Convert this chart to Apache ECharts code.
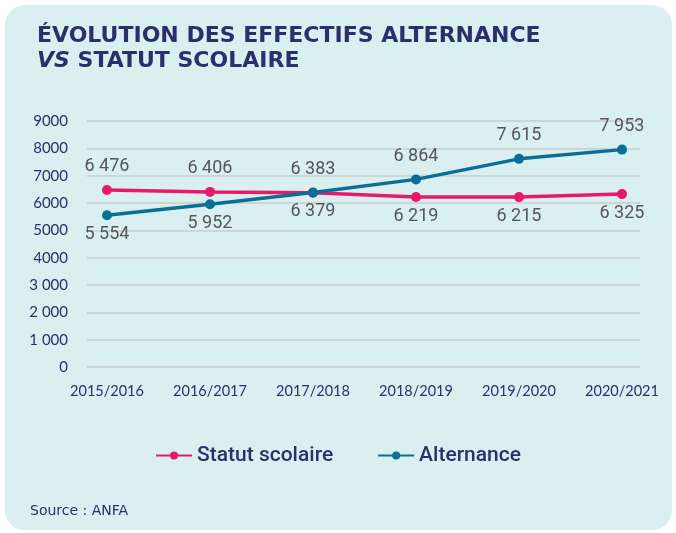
<!DOCTYPE html>
<html>
<head>
<meta charset="utf-8">
<script src="https://cdn.jsdelivr.net/npm/echarts@6/dist/echarts.min.js"></script>
<style>
  html, body { margin: 0; padding: 0; background: #ffffff; }
  #line { width: 676px; height: 533px; }
</style>
</head>
<body>
<div id="line"></div>
<script>
var categories = ["2015/2016", "2016/2017", "2017/2018", "2018/2019", "2019/2020", "2020/2021"];
var statutScolaire = [6476, 6406, 6379, 6219, 6215, 6325];
var alternance = [5554, 5952, 6383, 6864, 7615, 7953];
var yTickLabels = {0: "0", 1000: "1 000", 2000: "2 000", 3000: "3 000", 4000: "4000",
  5000: "5000", 6000: "6000", 7000: "7000", 8000: "8000", 9000: "9000"};
// label placement per point: true = above the point
var statutAbove = [true, true, false, false, false, false];
var alternanceAbove = [false, false, true, true, true, true];

var navy = "#2b2f6c";
var pink = "#e8196b";
var blue = "#0a6f96";

function fmt(v) {
  return String(v).replace(/\B(?=(\d{3})+(?!\d))/g, " ");
}

function seriesData(values, above) {
  return values.map(function(v, i) {
    return {
      value: v,
      label: above[i]
        ? { position: "top", distance: 9 }
        : { position: "bottom", distance: 5 }
    };
  });
}

var labelStyle = {
  show: true,
  color: "#565656",
  fontFamily: "Roboto",
  fontSize: 18,
  formatter: function(p) { return fmt(p.value); }
};

var option = {
  animation: false,
  graphic: [{
    type: "rect",
    z: -10,
    shape: { x: 5, y: 5, width: 667, height: 525, r: 20 },
    style: { fill: "#daeff0" }
  }, {
    type: "text",
    left: 30,
    top: 504,
    style: { text: "Source : ANFA", fill: navy, font: "14px 'DejaVu Sans'" }
  }],
  title: {
    left: 32,
    top: 19,
    text: "ÉVOLUTION DES EFFECTIFS ALTERNANCE\n{i|VS} STATUT SCOLAIRE",
    textStyle: {
      color: navy,
      fontFamily: "DejaVu Sans",
      fontSize: 22,
      fontWeight: 600,
      lineHeight: 25,
      rich: {
        i: { fontStyle: "italic", fontFamily: "DejaVu Sans", fontSize: 22, fontWeight: 600, color: navy, lineHeight: 25 }
      }
    }
  },
  legend: {
    top: 440,
    left: "center",
    itemGap: 44,
    itemWidth: 36,
    itemHeight: 10,
    textStyle: { color: navy, fontFamily: "Roboto", fontSize: 21, fontWeight: 500 },
    data: ["Statut scolaire", "Alternance"]
  },
  grid: [
    { left: 87, right: 36, top: 121, bottom: 166 },
    { left: 107, right: 54, top: 121, bottom: 166 }
  ],
  xAxis: [
    { gridIndex: 0, type: "category", data: categories, show: false },
    {
      gridIndex: 1,
      type: "category",
      boundaryGap: false,
      data: categories,
      axisLine: { show: false },
      axisTick: { show: false },
      axisLabel: { color: navy, fontFamily: "Lato", fontSize: 14.5, margin: 17 }
    }
  ],
  yAxis: [
    {
      gridIndex: 0,
      type: "value",
      min: 0,
      max: 9000,
      interval: 1000,
      axisLine: { show: false },
      axisTick: { show: false },
      splitLine: { lineStyle: { color: "#c9cdcd", width: 1.5 } },
      axisLabel: {
        color: navy,
        fontFamily: "Lato",
        fontSize: 15,
        margin: 19,
        formatter: function(v) { return yTickLabels[v]; }
      }
    },
    { gridIndex: 1, type: "value", min: 0, max: 9000, show: false, splitLine: { show: false } }
  ],
  series: [
    {
      name: "Statut scolaire",
      type: "line",
      xAxisIndex: 1,
      yAxisIndex: 1,
      symbol: "circle",
      symbolSize: 10,
      color: pink,
      lineStyle: { width: 3.5, color: pink },
      itemStyle: { color: pink },
      label: labelStyle,
      data: seriesData(statutScolaire, statutAbove)
    },
    {
      name: "Alternance",
      type: "line",
      xAxisIndex: 1,
      yAxisIndex: 1,
      symbol: "circle",
      symbolSize: 10,
      color: blue,
      lineStyle: { width: 3.5, color: blue },
      itemStyle: { color: blue },
      label: labelStyle,
      data: seriesData(alternance, alternanceAbove)
    }
  ]
};

var chart = echarts.init(document.getElementById("line"));
chart.setOption(option);
</script>
</body>
</html>
